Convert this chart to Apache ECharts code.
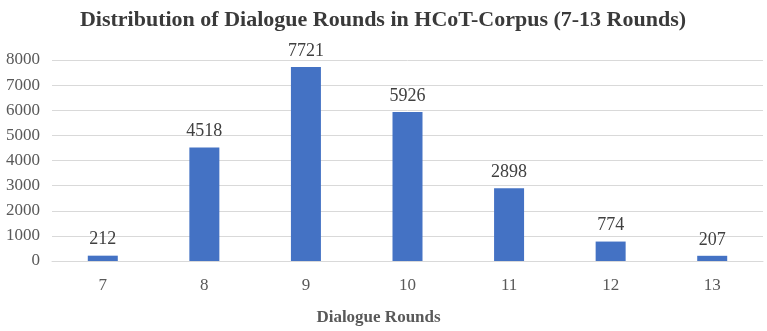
<!DOCTYPE html>
<html>
<head>
<meta charset="utf-8">
<script src="https://cdn.jsdelivr.net/npm/echarts@6/dist/echarts.min.js"></script>
<style>
  html, body { margin: 0; padding: 0; background: #fff; }
  #chart { width: 767px; height: 331px; }
</style>
</head>
<body>
<div id="chart"></div>
<script>
const rounds = ['7', '8', '9', '10', '11', '12', '13']
const counts = [212, 4518, 7721, 5926, 2898, 774, 207]

const serif = '"Liberation Serif", "Times New Roman", serif'
const chart = echarts.init(document.getElementById('chart'))

chart.setOption({
  animation: false,
  title: {
    text: 'Distribution of Dialogue Rounds in HCoT-Corpus (7-13 Rounds)',
    left: 378, top: 4, textAlign: 'center',
    textStyle: { fontFamily: serif, fontSize: 22, fontWeight: 'bold', color: '#3a3a3a' }
  },
  grid: { left: 52, right: 4, top: 60, bottom: 68 },
  xAxis: {
    type: 'category',
    data: rounds,
    name: 'Dialogue Rounds',
    nameLocation: 'middle',
    nameGap: 48,
    nameTextStyle: { fontFamily: serif, fontSize: 17, fontWeight: 'bold', color: '#595959', padding: [0, 58, 0, 0] },
    axisLine: { lineStyle: { color: '#D9D9D9' } },
    axisTick: { show: false },
    axisLabel: { fontFamily: serif, fontSize: 17, color: '#595959', margin: 16 }
  },
  yAxis: {
    type: 'value',
    min: 0, max: 8000, interval: 1000,
    axisLine: { show: false },
    axisTick: { show: false },
    axisLabel: { fontFamily: serif, fontSize: 17, color: '#595959', margin: 12, formatter: v => String(v) },
    splitLine: { lineStyle: { color: '#D9D9D9' } }
  },
  series: [{
    type: 'bar',
    data: counts,
    barWidth: 30,
    itemStyle: { color: '#4472C4' },
    label: { show: true, position: 'top', distance: 7, fontFamily: serif, fontSize: 18, color: '#404040' }
  }]
})
</script>
</body>
</html>
